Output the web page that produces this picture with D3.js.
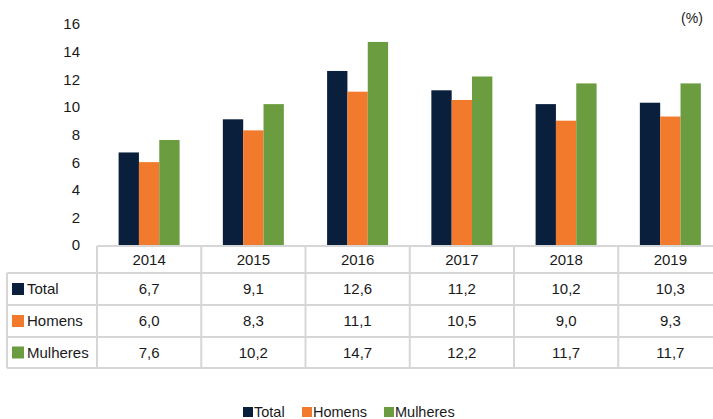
<!DOCTYPE html>
<html>
<head>
<meta charset="utf-8">
<script src="https://cdn.jsdelivr.net/npm/d3@7"></script>
<style>
  body { margin: 0; background: #fff; }
  text { font-family: "Liberation Sans", Arial, sans-serif; fill: #1a1a1a; }
</style>
</head>
<body>
<svg width="713" height="419"></svg>
<script>
// Data
var years = ["2014", "2015", "2016", "2017", "2018", "2019"];
var series = ["Total", "Homens", "Mulheres"];
var total = [6.7, 9.1, 12.6, 11.2, 10.2, 10.3];
var homens = [6.0, 8.3, 11.1, 10.5, 9.0, 9.3];
var mulheres = [7.6, 10.2, 14.7, 12.2, 11.7, 11.7];
var yTicks = [0, 2, 4, 6, 8, 10, 12, 14, 16];

var values = { "Total": total, "Homens": homens, "Mulheres": mulheres };
var colors = { "Total": "#0a1f3c", "Homens": "#f27a2c", "Mulheres": "#6b9c40" };

var svg = d3.select("svg");

// Scales
var bandW = 104.25;
var x0 = d3.scaleBand().domain(years).range([97, 97 + bandW * years.length]);
var x1 = d3.scaleBand().domain(series).range([21.6, 82.6]);
var y = d3.scaleLinear().domain([0, 16]).range([245, 24]);

// Y axis labels (no axis line)
svg.append("g")
  .selectAll("text")
  .data(yTicks)
  .enter()
  .append("text")
    .attr("x", 80)
    .attr("y", function(d) { return y(d); })
    .attr("dy", "0.36em")
    .attr("text-anchor", "end")
    .style("font-size", "15px")
    .text(function(d) { return d; });

svg.append("text")
  .attr("x", 692)
  .attr("y", 23)
  .attr("text-anchor", "middle")
  .style("font-size", "14px")
  .text("(%)");

// Bars
var groups = svg.append("g")
  .selectAll("g")
  .data(years)
  .enter()
  .append("g")
    .attr("transform", function(d) { return "translate(" + x0(d) + ",0)"; });

groups.selectAll("rect")
  .data(function(d, i) { return series.map(function(s) { return { s: s, v: values[s][i] }; }); })
  .enter()
  .append("rect")
    .attr("x", function(d) { return x1(d.s); })
    .attr("y", function(d) { return y(d.v); })
    .attr("width", x1.bandwidth())
    .attr("height", function(d) { return y(0) - y(d.v); })
    .attr("fill", function(d) { return colors[d.s]; });

// Data table
var rowTop = [246, 273, 305, 337, 368];
var grid = svg.append("g").attr("stroke", "#d6d6d6").attr("stroke-width", 2);

grid.append("line").attr("x1", 97).attr("x2", 713).attr("y1", rowTop[0]).attr("y2", rowTop[0]);
rowTop.slice(1).forEach(function(ry) {
  grid.append("line").attr("x1", 7).attr("x2", 713).attr("y1", ry).attr("y2", ry);
});
grid.append("line").attr("x1", 7).attr("x2", 7).attr("y1", rowTop[1]).attr("y2", rowTop[4]);
years.forEach(function(yr) {
  grid.append("line").attr("x1", x0(yr)).attr("x2", x0(yr)).attr("y1", rowTop[0]).attr("y2", rowTop[4]);
});

// Year header
svg.append("g")
  .selectAll("text")
  .data(years)
  .enter()
  .append("text")
    .attr("x", function(d) { return x0(d) + bandW / 2; })
    .attr("y", (rowTop[0] + rowTop[1]) / 2)
    .attr("dy", "0.36em")
    .attr("text-anchor", "middle")
    .style("font-size", "15px")
    .text(function(d) { return d; });

// Series rows
series.forEach(function(s, r) {
  var cy = (rowTop[r + 1] + rowTop[r + 2]) / 2;
  svg.append("rect")
    .attr("x", 12).attr("y", cy - 6)
    .attr("width", 12).attr("height", 12)
    .attr("fill", colors[s]);
  svg.append("text")
    .attr("x", 27).attr("y", cy)
    .attr("dy", "0.36em")
    .style("font-size", "15px")
    .text(s);
  svg.append("g")
    .selectAll("text")
    .data(values[s])
    .enter()
    .append("text")
      .attr("x", function(d, i) { return x0(years[i]) + bandW / 2; })
      .attr("y", cy)
      .attr("dy", "0.36em")
      .attr("text-anchor", "middle")
      .style("font-size", "15px")
      .text(function(d) { return d3.format(".1f")(d).replace(".", ","); });
});

// Bottom legend
var legendX = { "Total": 243, "Homens": 302, "Mulheres": 384 };
var legend = svg.append("g")
  .selectAll("g")
  .data(series)
  .enter()
  .append("g")
    .attr("transform", function(d) { return "translate(" + legendX[d] + ",412)"; });

legend.append("rect")
  .attr("x", 0).attr("y", -5)
  .attr("width", 10).attr("height", 10)
  .attr("fill", function(d) { return colors[d]; });

legend.append("text")
  .attr("x", 11).attr("y", 0)
  .attr("dy", "0.36em")
  .style("font-size", "14.5px")
  .text(function(d) { return d; });
</script>
</body>
</html>
